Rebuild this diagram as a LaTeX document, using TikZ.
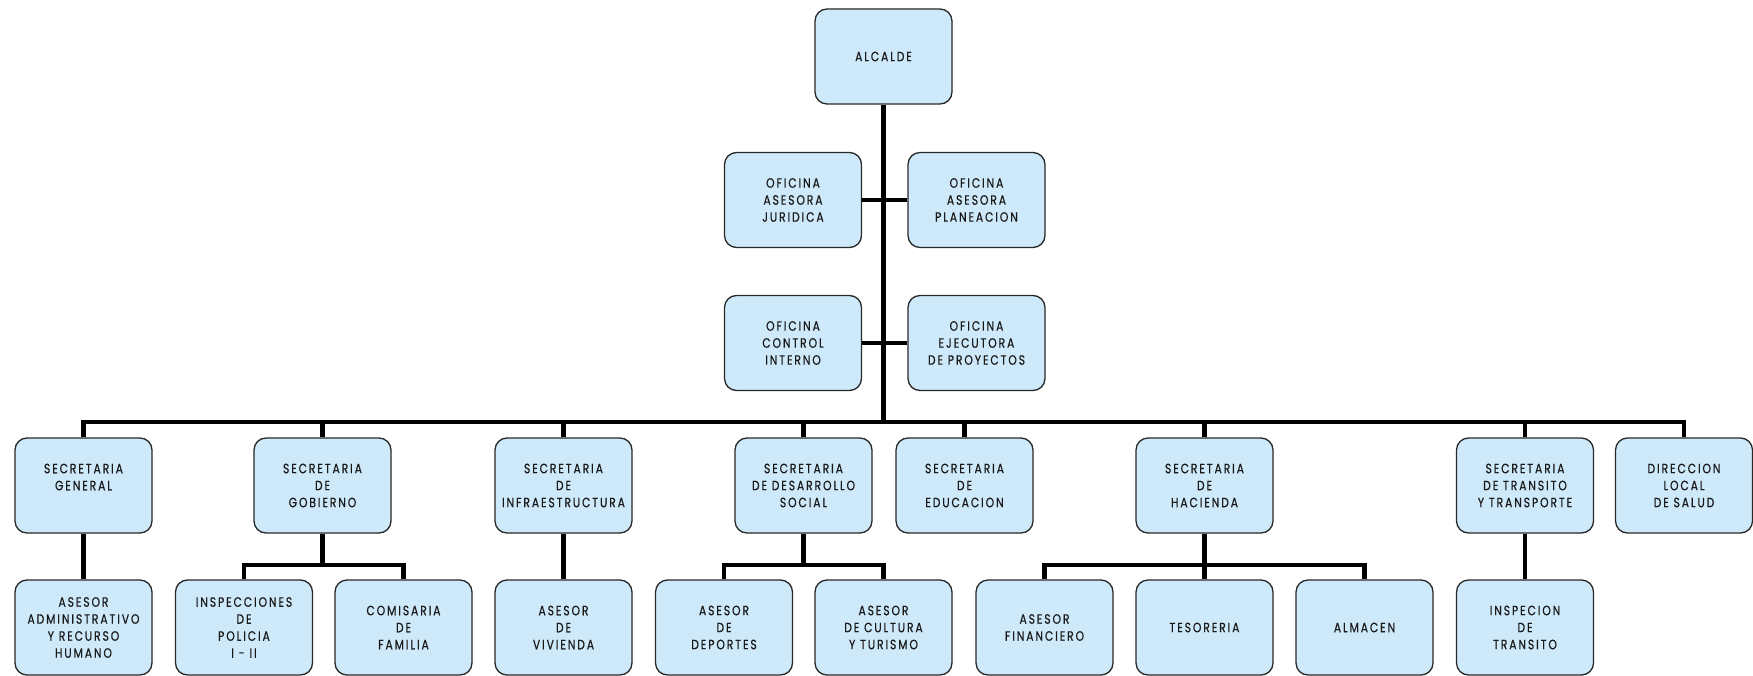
\documentclass[tikz,border=0pt]{standalone}
\usepackage{fontspec}
\setmainfont{Poppins}
\newfontfamily\boxfont[LetterSpace=14,FakeStretch=0.8,FakeBold=0.4]{Poppins}
\definecolor{boxfill}{RGB}{205,233,250}
\definecolor{boxline}{RGB}{40,40,40}
\tikzset{
  orgbox/.style={draw=boxline, line width=1.3pt, fill=boxfill, rounded corners=12pt,
    minimum width=137pt, minimum height=95pt, inner sep=0pt, align=center,
    font=\boxfont\fontsize{13.5}{17}\selectfont, text=black!90},
  link/.style={line width=4.5pt, line join=miter, black}
}
\begin{document}
\begin{tikzpicture}[x=1pt,y=-1pt]
\useasboundingbox (0,0) rectangle (1753,676);
% top
\node[orgbox] (alc) at (883.5,56.5) {ALCALDE};
\node[orgbox] (jur) at (793,200) {OFICINA\\ASESORA\\JURIDICA};
\node[orgbox] (pla) at (976.5,200) {OFICINA\\ASESORA\\PLANEACION};
\node[orgbox] (ctl) at (793,343) {OFICINA\\CONTROL\\INTERNO};
\node[orgbox] (eje) at (976.5,343) {OFICINA\\EJECUTORA\\DE PROYECTOS};
% row 2
\node[orgbox] (sg)  at (83.5,485.5) {SECRETARIA\\GENERAL\\\mbox{}};
\node[orgbox] (gob) at (322.5,485.5) {SECRETARIA\\DE\\GOBIERNO};
\node[orgbox] (inf) at (563.5,485.5) {SECRETARIA\\DE\\INFRAESTRUCTURA};
\node[orgbox] (des) at (803.5,485.5) {SECRETARIA\\DE DESARROLLO\\SOCIAL};
\node[orgbox] (edu) at (964.5,485.5) {SECRETARIA\\DE\\EDUCACION};
\node[orgbox] (hac) at (1204.5,485.5) {SECRETARIA\\DE\\HACIENDA};
\node[orgbox] (tra) at (1525,485.5) {SECRETARIA\\DE TRANSITO\\Y TRANSPORTE};
\node[orgbox] (dls) at (1684,485.5) {DIRECCION\\LOCAL\\DE SALUD};
% row 3
\node[orgbox] (aa)  at (83.5,627.5) {ASESOR\\ADMINISTRATIVO\\Y RECURSO\\HUMANO};
\node[orgbox] (ins) at (244,627.5) {INSPECCIONES\\DE\\POLICIA\\I - II};
\node[orgbox] (com) at (403.5,627.5) {COMISARIA\\DE\\FAMILIA};
\node[orgbox] (viv) at (563.5,627.5) {ASESOR\\DE\\VIVIENDA};
\node[orgbox] (dep) at (724,627.5) {ASESOR\\DE\\DEPORTES};
\node[orgbox] (cul) at (883.5,627.5) {ASESOR\\DE CULTURA\\Y TURISMO};
\node[orgbox] (fin) at (1044.5,627.5) {ASESOR\\FINANCIERO};
\node[orgbox] (tes) at (1204.5,627.5) {TESORERIA};
\node[orgbox] (alm) at (1364.5,627.5) {ALMACEN};
\node[orgbox] (itr) at (1525,627.5) {INSPECION\\DE\\TRANSITO};
% junctions
\coordinate (bus) at (883.5,422);
\coordinate (gobj) at (322.5,565);
\coordinate (desj) at (803.5,565);
\coordinate (hacj) at (1204.5,565);
% connectors
\draw[link] (alc.south) -- (bus);
\draw[link] (jur.east) -- (pla.west);
\draw[link] (ctl.east) -- (eje.west);
\draw[link] (sg.north) |- (bus) -| (dls.north);
\foreach \n in {gob,inf,des,edu,hac,tra}{
  \draw[link] (\n.north) -- (\n.north |- bus);
}
\draw[link] (sg.south) -- (aa.north);
\draw[link] (inf.south) -- (viv.north);
\draw[link] (tra.south) -- (itr.north);
\draw[link] (gob.south) -- (gobj);
\draw[link] (ins.north) |- (gobj) -| (com.north);
\draw[link] (des.south) -- (desj);
\draw[link] (dep.north) |- (desj) -| (cul.north);
\draw[link] (hac.south) -- (hacj) -- (tes.north);
\draw[link] (fin.north) |- (hacj) -| (alm.north);
\end{tikzpicture}
\end{document}
